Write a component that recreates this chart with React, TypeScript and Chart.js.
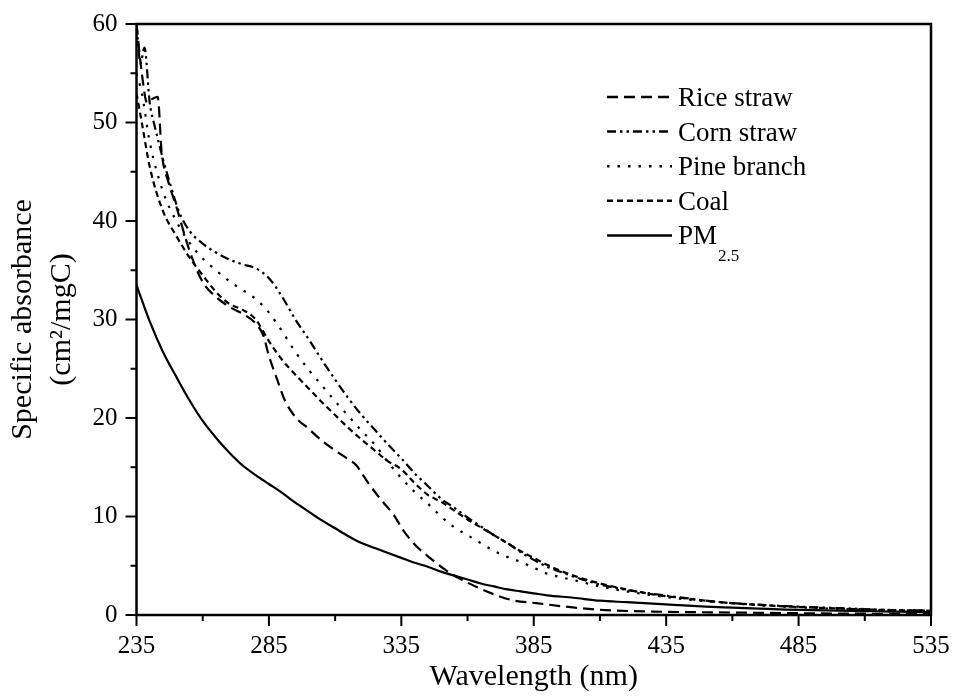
import React, { useEffect, useRef } from 'react';
import { Chart, registerables } from 'chart.js';

Chart.register(...registerables);

// ---- axis ticks ----
const xMajor = [235, 285, 335, 385, 435, 485, 535];
const xMinor = [260, 310, 360, 410, 460, 510];
const yMajor = [0, 10, 20, 30, 40, 50, 60];
const yMinor = [5, 15, 25, 35, 45, 55];

// ---- series ----
const riceX = [235, 237, 239, 241, 243, 244.5, 247, 250, 255, 260, 265, 270, 275, 280, 283, 285, 288, 291, 295, 300, 305, 310, 315, 318, 322, 327, 332, 336, 341, 346, 351, 357, 363, 370, 377, 386, 397, 412, 430, 460, 500, 535];
const riceY = [60, 55, 52, 52.4, 52.6, 47, 44, 41.5, 37, 33.8, 32.3, 31.3, 30.6, 29.6, 28.3, 26.3, 24, 21.8, 20.1, 18.9, 17.7, 16.7, 15.8, 15.2, 13.6, 11.8, 10.2, 8.5, 6.9, 5.75, 4.7, 3.7, 2.9, 2.1, 1.5, 1.2, 0.85, 0.5, 0.35, 0.25, 0.15, 0.1];

const cornX = [235, 236.5, 238, 240, 242, 245, 248, 251, 255, 260, 265, 270, 275, 280, 285, 290, 295, 300, 305, 310, 315, 320, 325, 330, 335, 340, 345, 350, 355, 360, 365, 370, 375, 380, 385, 390, 395, 400, 410, 420, 430, 440, 450, 460, 470, 480, 490, 500, 510, 520, 535];
const cornY = [60, 56, 57.6, 52, 49.5, 46.3, 43.5, 41, 39, 37.7, 36.8, 36.1, 35.6, 35.2, 34.2, 32.3, 30.0, 28.0, 25.9, 23.9, 22.0, 20.3, 18.8, 17.3, 15.9, 14.4, 13.1, 11.8, 10.9, 9.9, 9.0, 8.1, 7.3, 6.4, 5.6, 4.9, 4.4, 3.9, 3.1, 2.55, 2.15, 1.8, 1.45, 1.2, 1.05, 0.9, 0.8, 0.7, 0.6, 0.5, 0.45];

const pineX = [235, 237, 240, 245, 250, 255, 260, 265, 270, 275, 280, 285, 290, 295, 300, 305, 310, 315, 320, 325, 330, 335, 340, 345, 350, 355, 360, 365, 370, 375, 380, 385, 390, 395, 400, 410, 420, 430, 440, 450, 460, 470, 480, 490, 500, 510, 520, 535];
const pineY = [55, 53, 48, 43, 40, 37.8, 36.2, 35.0, 33.9, 33.0, 32.1, 30.7, 28.8, 26.7, 24.9, 23.3, 21.7, 20.2, 18.7, 17.3, 15.5, 13.9, 12.5, 11.3, 10.0, 8.9, 8.1, 7.3, 6.5, 5.9, 5.4, 4.8, 4.2, 3.85, 3.55, 2.9, 2.4, 2.0, 1.65, 1.4, 1.2, 1.0, 0.85, 0.72, 0.62, 0.52, 0.45, 0.4];

const coalX = [235, 237, 240, 245, 250, 255, 260, 265, 270, 275, 280, 285, 290, 295, 300, 305, 310, 315, 320, 325, 330, 335, 340, 345, 350, 355, 360, 365, 370, 375, 380, 385, 390, 395, 400, 410, 420, 430, 440, 450, 460, 470, 480, 490, 500, 510, 520, 535];
const coalY = [53, 50, 45.5, 41, 38.5, 36.3, 34.5, 32.8, 31.6, 31.0, 30.0, 27.8, 25.9, 24.4, 23.0, 21.6, 20.3, 19.0, 17.8, 16.7, 15.6, 14.8, 13.4, 12.2, 11.5, 10.6, 9.7, 8.9, 8.1, 7.3, 6.5, 5.8, 5.1, 4.5, 4.0, 3.2, 2.6, 2.1, 1.75, 1.45, 1.2, 1.02, 0.88, 0.76, 0.66, 0.57, 0.5, 0.45];

const pmX = [235, 240, 245, 250, 255, 260, 265, 270, 275, 280, 285, 290, 295, 300, 305, 310, 315, 320, 325, 330, 335, 340, 345, 350, 355, 360, 365, 370, 375, 380, 385, 390, 400, 410, 420, 430, 440, 450, 460, 470, 480, 490, 500, 510, 520, 535];
const pmY = [33.5, 29.8, 26.7, 24.2, 21.8, 19.7, 18.0, 16.5, 15.2, 14.2, 13.3, 12.4, 11.4, 10.5, 9.6, 8.8, 8.0, 7.3, 6.8, 6.3, 5.8, 5.3, 4.9, 4.4, 4.0, 3.6, 3.2, 2.9, 2.6, 2.4, 2.2, 2.0, 1.75, 1.45, 1.3, 1.15, 1.0, 0.85, 0.75, 0.65, 0.55, 0.5, 0.45, 0.4, 0.35, 0.3];

const seriesLabels = ['Rice straw', 'Corn straw', 'Pine branch', 'Coal', 'PM2.5'];
const legendMain = ['Rice straw', 'Corn straw', 'Pine branch', 'Coal', 'PM'];
const legendSub = ['', '', '', '', '2.5'];

const FONT = "'Liberation Serif', 'Times New Roman', serif";
const dashes: number[][] = [[11, 6], [9, 4, 2.5, 4, 2.5, 4], [2.5, 8], [6, 4], []];

const frameTicks = {
  id: 'frameTicks',
  afterDatasetsDraw(chart: any) {
    const { ctx, chartArea: a, scales } = chart;
    const x = scales.x;
    const y = scales.y;
    ctx.save();
    ctx.strokeStyle = '#000';
    ctx.lineWidth = 2;
    ctx.setLineDash([]);
    ctx.beginPath();
    xMajor.forEach((v) => {
      const p = x.getPixelForValue(v);
      ctx.moveTo(p, a.bottom);
      ctx.lineTo(p, a.bottom + 11);
    });
    xMinor.forEach((v) => {
      const p = x.getPixelForValue(v);
      ctx.moveTo(p, a.bottom);
      ctx.lineTo(p, a.bottom + 6);
    });
    yMajor.forEach((v) => {
      const p = y.getPixelForValue(v);
      ctx.moveTo(a.left, p);
      ctx.lineTo(a.left - 11, p);
    });
    yMinor.forEach((v) => {
      const p = y.getPixelForValue(v);
      ctx.moveTo(a.left, p);
      ctx.lineTo(a.left - 6, p);
    });
    ctx.stroke();
    ctx.lineWidth = 2.5;
    ctx.strokeRect(a.left, a.top, a.right - a.left, a.bottom - a.top);
    ctx.restore();
  },
};

const customLegend = {
  id: 'customLegend',
  afterDraw(chart: any) {
    const { ctx, chartArea: a } = chart;
    const x0 = a.right - 324;
    const x1 = x0 + 65;
    const tx = x0 + 71;
    const top = a.top + 73;
    const step = 34.6;
    ctx.save();
    ctx.strokeStyle = '#000';
    ctx.fillStyle = '#000';
    ctx.lineWidth = 2.5;
    ctx.textBaseline = 'alphabetic';
    ctx.textAlign = 'left';
    legendMain.forEach((lab, i) => {
      const yy = top + i * step;
      ctx.setLineDash(dashes[i]);
      ctx.beginPath();
      ctx.moveTo(x0, yy);
      ctx.lineTo(x1, yy);
      ctx.stroke();
      ctx.setLineDash([]);
      ctx.font = `27px ${FONT}`;
      ctx.fillText(lab, tx, yy + 9);
      if (legendSub[i]) {
        const w = ctx.measureText(lab).width;
        ctx.font = `17px ${FONT}`;
        ctx.fillText(legendSub[i], tx + w + 1, yy + 26);
      }
    });
    ctx.restore();
  },
};

const noOverflow = (s: any) => {
  s.paddingLeft = 0;
  s.paddingRight = 0;
  s.paddingTop = 0;
  s.paddingBottom = 0;
};

export default function App() {
  const ref = useRef<HTMLCanvasElement | null>(null);
  useEffect(() => {
    if (!ref.current) return;
    const xs = [riceX, cornX, pineX, coalX, pmX];
    const ys = [riceY, cornY, pineY, coalY, pmY];
    const chart = new Chart(ref.current, {
      type: 'line',
      data: {
        datasets: seriesLabels.map((label, i) => ({
          label,
          data: xs[i].map((xv, j) => ({ x: xv, y: ys[i][j] })),
          borderColor: '#000',
          backgroundColor: '#000',
          borderWidth: 2.2,
          borderDash: dashes[i],
          pointRadius: 0,
          fill: false,
          cubicInterpolationMode: 'monotone' as const,
        })),
      },
      options: {
        animation: false,
        responsive: true,
        maintainAspectRatio: false,
        layout: { padding: { top: 24, right: 22, left: 0, bottom: 0 } },
        plugins: { legend: { display: false }, tooltip: { enabled: false } },
        scales: {
          x: {
            type: 'linear',
            min: 235,
            max: 535,
            afterBuildTicks: (s: any) => {
              s.ticks = xMajor.map((v) => ({ value: v }));
            },
            afterFit: (s: any) => {
              s.height = 81;
              noOverflow(s);
            },
            grid: { display: false, drawTicks: false },
            border: { display: false },
            ticks: {
              color: '#000',
              font: { family: FONT, size: 25 },
              padding: 16,
              maxRotation: 0,
              autoSkip: false,
              callback: (v: any) => String(v),
            },
            title: {
              display: true,
              text: 'Wavelength (nm)',
              color: '#000',
              font: { family: FONT, size: 30, lineHeight: 1.2 },
              padding: { top: 0, bottom: 1 },
            },
          },
          y: {
            type: 'linear',
            min: 0,
            max: 60,
            afterBuildTicks: (s: any) => {
              s.ticks = yMajor.map((v) => ({ value: v }));
            },
            afterFit: (s: any) => {
              s.width = 136.5;
              noOverflow(s);
            },
            grid: { display: false, drawTicks: false },
            border: { display: false },
            ticks: {
              color: '#000',
              font: { family: FONT, size: 25 },
              padding: 19,
              autoSkip: false,
              callback: (v: any) => String(v),
            },
            title: {
              display: true,
              text: ['Specific absorbance', '(cm²/mgC)'],
              color: '#000',
              font: { family: FONT, size: 30, lineHeight: 1.3 },
              padding: { top: 3.5, bottom: 0 },
            },
          },
        },
      },
      plugins: [frameTicks, customLegend],
    });
    return () => chart.destroy();
  }, []);
  return (
    <div style={{ position: 'absolute', left: 0, top: 0, width: 953, height: 696, background: '#fff' }}>
      <canvas ref={ref} />
    </div>
  );
}
